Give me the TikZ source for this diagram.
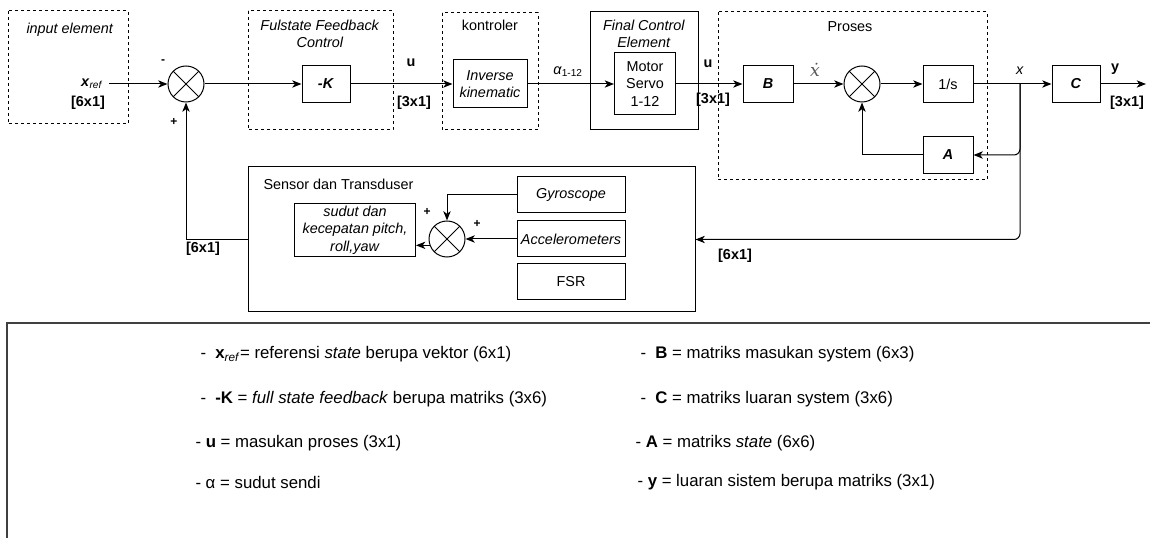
\documentclass[tikz,border=0pt]{standalone}
\usepackage{fontspec}
\setmainfont{Liberation Sans}
\newfontfamily\hurufmiring{DejaVu Serif}
\usetikzlibrary{arrows.meta}

\begin{document}
\begin{tikzpicture}[x=0.75pt,y=-0.75pt,
        font=\fontsize{10.8}{13.2}\selectfont,
        line width=0.75pt,
        >={Stealth[length=7pt,width=5.5pt,inset=2pt]},
        blok/.style={draw,minimum width=#1,minimum height=27.5pt,inner sep=1pt,align=center},
        jumlah/.style={circle,draw,minimum size=27pt,inner sep=0pt,
            path picture={\draw[shift={(path picture bounding box.center)}] (45:15pt) -- (225:15pt) (135:15pt) -- (315:15pt);}},
        bingkai/.style={dash pattern=on 2.25pt off 2.25pt},
        teks/.style={inner sep=0pt,align=center},
        tanda/.style={inner sep=0pt,font=\fontsize{9}{10}\selectfont\bfseries},
        legenda/.style={anchor=west,inner sep=0pt,font=\fontsize{12.6}{15}\selectfont}]
    \useasboundingbox (0,0) rectangle (1150,538);
    % bingkai kelompok
    \draw[bingkai] (8,11) rectangle (128,124);
    \draw[bingkai] (248,11) rectangle (393,130);
    \draw[bingkai] (442,13) rectangle (538,130);
    \draw (590,12) rectangle (698,130);
    \draw[bingkai] (718,12) rectangle (987,180);
    \node[teks] (tInput) at (70,30) {\textit{input element}};
    \node[teks] (tFsfc) at (320,34) {\textit{Fulstate Feedback}\\\textit{Control}};
    \node[teks] (tKontrol) at (490,25) {kontroler};
    \node[teks] (tFce) at (644,34) {\textit{Final Control}\\\textit{Element}};
    \node[teks] (tProses) at (850,27) {Proses};
    % blok utama
    \node[teks] (xref) at (92,84) {\textbf{\textit{x}}\textsubscript{\textit{ref}}};
    \node[teks] (xrefDim) at (88,103) {\textbf{[6x1]}};
    \node[jumlah] (sum1) at (186,84) {};
    \node[blok=36pt] (K) at (326,84) {\textbf{\textit{-K}}};
    \node[blok=55.5pt,minimum height=36pt] (inv) at (490,84) {\textit{Inverse}\\\textit{kinematic}};
    \node[blok=45.75pt,minimum height=46.5pt] (servo) at (645,84) {Motor\\Servo\\1-12};
    \node[blok=37.5pt] (B) at (768,84) {\textbf{\textit{B}}};
    \node[jumlah] (sum2) at (862,84) {};
    \node[blok=37.5pt] (integ) at (948,84) {1/s};
    \node[blok=36pt] (C) at (1076,84) {\textbf{\textit{C}}};
    \node[blok=37.5pt] (A) at (948,155) {\textbf{\textit{A}}};
    \coordinate (cabang) at (1020,84);
    \coordinate (keluar) at (1146,84);
    \node[tanda] (m1) at (163,62) {-};
    \node[tanda] (p1) at (174,122) {+};
    \node[teks] (lu1) at (411,63) {\textbf{u}};
    \node[teks] (lu1d) at (414,103) {\textbf{[3x1]}};
    \node[teks] (lalpha) at (568,72) {\textit{α}\textsubscript{1-12}};
    \node[teks] (lu2) at (708,64) {\textbf{u}};
    \node[teks] (lu2d) at (713,100) {\textbf{[3x1]}};
    \node[teks,text=black!65,font=\fontsize{13}{14}\hurufmiring\itshape] (lxdot) at (815,70) {ẋ};
    \node[teks] (lx) at (1020,71) {\textit{x}};
    \node[teks] (ly) at (1115,69) {\textbf{y}};
    \node[teks] (lyd) at (1127,103) {\textbf{[3x1]}};
    % sensor dan transduser
    \node[draw,minimum width=335.25pt,minimum height=108.75pt] (sensor) at (471.5,239.5) {};
    \node[teks,anchor=west] (tSensor) at (263,184) {Sensor dan Transduser};
    \node[blok=81pt,minimum height=27pt] (gyro) at (571,195) {\textit{Gyroscope}};
    \node[blok=81pt,minimum height=27pt] (accel) at (571,239) {\textit{Accelerometers}};
    \node[blok=81pt,minimum height=27pt] (fsr) at (571,282) {FSR};
    \node[blok=90.75pt,minimum height=39.75pt] (sudut) at (355,230) {\textit{sudut dan}\\\textit{kecepatan pitch,}\\\textit{roll,yaw}};
    \node[jumlah] (sum3) at (447,239) {};
    \node[tanda] (p2) at (427,212) {+};
    \node[tanda] (p3) at (477,224) {+};
    \node[teks] (lfb1) at (203,249) {\textbf{[6x1]}};
    \node[teks] (lfb2) at (735,256) {\textbf{[6x1]}};
    % penghubung
    \draw[->] (xref.east) ++(6,0) -- (sum1.west);
    \draw[->] (sum1) -- (K);
    \draw[->] (K) -- (inv);
    \draw[->] (inv) -- (servo);
    \draw[->] (servo) -- (B);
    \draw[->] (B) -- (sum2);
    \draw[->] (sum2) -- (integ);
    \draw[->] (integ) -- (C);
    \draw[->] (C) -- (keluar);
    \draw[->,rounded corners=4.5pt] (cabang) -- (cabang |- A.east) -- (A.east);
    \draw[->] (A.west) -- (A.west -| sum2.south) -- (sum2.south);
    \draw[->,rounded corners=4.5pt] (cabang) -- (cabang |- sensor.east) -- (sensor.east);
    \draw[->] (sensor.west) -- (sensor.west -| sum1.south) -- (sum1.south);
    \draw[->] (gyro.west) -- (gyro.west -| sum3.north) -- (sum3.north);
    \draw[->] (accel.west) -- (sum3.east);
    \draw[->] (sum3.200) -- (sum3.200 -| sudut.east);
    % keterangan
    \draw[black!75,line width=1.1pt] (7,538) -- (7,323) -- (1150,323);
    \node[legenda] (k1) at (200,354) {-\hspace{0.55em}\textbf{x}\textsubscript{\textit{ref}}= referensi \textit{state} berupa vektor (6x1)};
    \node[legenda] (k2) at (200,399) {-\hspace{0.55em}\textbf{-K} = \textit{full state feedback} berupa matriks (3x6)};
    \node[legenda] (k3) at (195,443) {- \textbf{u} = masukan proses (3x1)};
    \node[legenda] (k4) at (195,482) {- α = sudut sendi};
    \node[legenda] (k5) at (640,354) {-\hspace{0.55em}\textbf{B} = matriks masukan system (6x3)};
    \node[legenda] (k6) at (640,399) {-\hspace{0.55em}\textbf{C} = matriks luaran system (3x6)};
    \node[legenda] (k7) at (635,443) {- \textbf{A} = matriks \textit{state} (6x6)};
    \node[legenda] (k8) at (637,482) {- \textbf{y} = luaran sistem berupa matriks (3x1)};
\end{tikzpicture}
\end{document}
